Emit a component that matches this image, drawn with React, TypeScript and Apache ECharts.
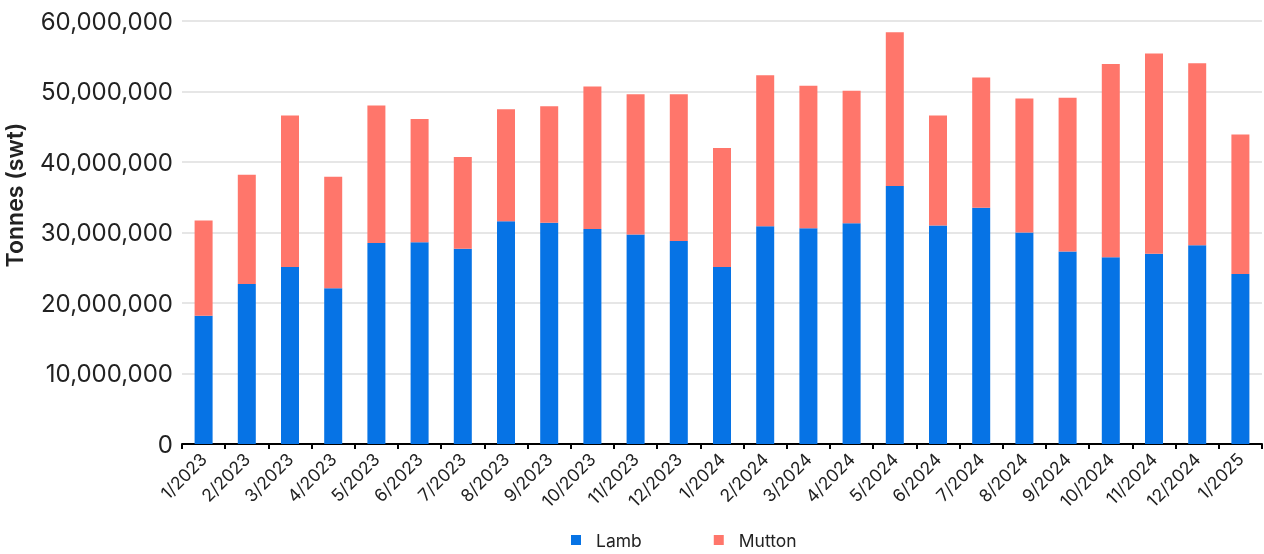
import React, { useEffect, useRef } from "react";
import * as echarts from "echarts";

// Monthly slaughter volumes, Jan 2023 – Jan 2025
const months = [
  "1/2023", "2/2023", "3/2023", "4/2023", "5/2023", "6/2023", "7/2023", "8/2023", "9/2023",
  "10/2023", "11/2023", "12/2023", "1/2024", "2/2024", "3/2024", "4/2024", "5/2024", "6/2024",
  "7/2024", "8/2024", "9/2024", "10/2024", "11/2024", "12/2024", "1/2025",
];

const lamb = [
  18200000, 22700000, 25100000, 22100000, 28500000, 28600000, 27700000, 31600000, 31400000,
  30500000, 29700000, 28800000, 25100000, 30900000, 30600000, 31300000, 36600000, 31000000,
  33500000, 30000000, 27300000, 26500000, 27000000, 28200000, 24100000,
];

const mutton = [
  13500000, 15500000, 21500000, 15800000, 19500000, 17500000, 13000000, 15900000, 16500000,
  20200000, 19900000, 20800000, 16900000, 21400000, 20200000, 18800000, 21800000, 15600000,
  18500000, 19000000, 21800000, 27400000, 28400000, 25800000, 19800000,
];

const yTicks = { min: 0, max: 60000000, step: 10000000 };

const FONT = "Inter, 'Liberation Sans', Arial, sans-serif";
const TEXT = "#222222";

export default function App() {
  const ref = useRef<HTMLDivElement>(null);

  useEffect(() => {
    if (!ref.current) return;
    const chart = echarts.init(ref.current, undefined, { renderer: "svg" });
    chart.setOption({
      animation: false,
      textStyle: { fontFamily: FONT },
      grid: { left: 182, right: 2, top: 21, bottom: 110, containLabel: false },
      legend: {
        left: 566,
        top: 526,
        icon: "rect",
        itemWidth: 10,
        itemHeight: 10,
        itemGap: 72,
        textStyle: { fontSize: 17.5, color: TEXT, fontFamily: FONT, padding: [0, 0, 0, 10] },
        data: ["Lamb", "Mutton"],
      },
      graphic: [
        {
          type: "text",
          x: 15,
          y: 195,
          rotation: Math.PI / 2,
          style: {
            text: "Tonnes (swt)",
            fontSize: 23,
            fontWeight: 600,
            fontFamily: FONT,
            fill: TEXT,
            textAlign: "center",
            textVerticalAlign: "middle",
          },
        },
      ],
      xAxis: {
        type: "category",
        data: months,
        axisLine: { lineStyle: { color: "#000", width: 2 } },
        axisTick: { show: true, length: 5, lineStyle: { color: "#000", width: 2 } },
        axisLabel: { rotate: 45, fontSize: 17.5, color: TEXT, margin: 12, fontFamily: FONT },
      },
      yAxis: {
        type: "value",
        min: yTicks.min,
        max: yTicks.max,
        interval: yTicks.step,
        axisLine: { show: false },
        axisTick: { show: false },
        axisLabel: {
          fontSize: 24,
          color: TEXT,
          margin: 9,
          fontFamily: FONT,
          formatter: (v: number) => v.toLocaleString("en-US"),
        },
        splitLine: { lineStyle: { color: "#e6e6e6", width: 2 } },
      },
      series: [
        {
          name: "Lamb",
          type: "bar",
          stack: "total",
          barWidth: 18,
          data: lamb,
          itemStyle: { color: "#0673e5" },
        },
        {
          name: "Mutton",
          type: "bar",
          stack: "total",
          barWidth: 18,
          data: mutton,
          itemStyle: { color: "#ff766b" },
        },
      ],
    });
    return () => chart.dispose();
  }, []);

  return (
    <div
      ref={ref}
      style={{ position: "fixed", left: 0, top: 0, width: "1264px", height: "554px" }}
    />
  );
}
